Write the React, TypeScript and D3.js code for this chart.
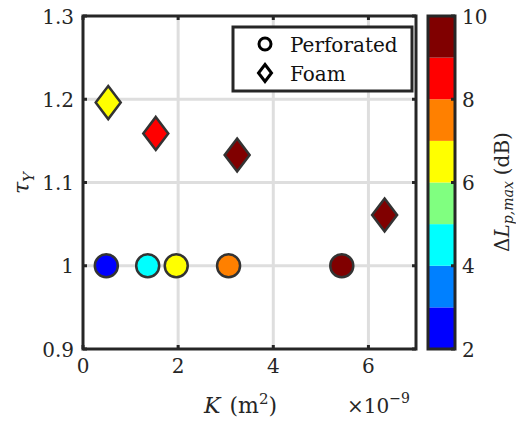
import React from "react";
import * as d3 from "d3";

const perfK = [0.49, 1.36, 1.96, 3.06, 5.44];
const perfTau = [1.0, 1.0, 1.0, 1.0, 1.0];
const perfDL = [2.5, 4.5, 6.5, 7.5, 9.5];

const foamK = [0.53, 1.53, 3.24, 6.34];
const foamTau = [1.196, 1.159, 1.133, 1.061];
const foamDL = [6.5, 8.5, 9.5, 9.5];

const xTicks = [0, 2, 4, 6];
const yTicks = [0.9, 1, 1.1, 1.2, 1.3];
const yTickLabels = ["0.9", "1", "1.1", "1.2", "1.3"];
const cTicks = [2, 4, 6, 8, 10];
const jetColors = ["#0000ff", "#0080ff", "#00ffff", "#80ff80", "#ffff00", "#ff8000", "#ff0000", "#800000"];

const FONT = "DejaVu Serif";

export default function App() {
  const W = 516, H = 422;
  const L = 83, R = 416, T = 16, B = 349;
  const x = d3.scaleLinear().domain([0, 7]).range([L, R]);
  const y = d3.scaleLinear().domain([0.9, 1.3]).range([B, T]);
  const cbL = 428, cbR = 455;
  const c = d3.scaleLinear().domain([2, 10]).range([B, T]);
  const color = d3.scaleQuantize<string>().domain([2, 10]).range(jetColors);
  const grid = "#dedede";
  const axis = "#262626";
  const edge = "#333333";
  const diamond = (cx: number, cy: number, w = 12.5, h = 16.5) =>
    `M${cx},${cy - h}L${cx + w},${cy}L${cx},${cy + h}L${cx - w},${cy}Z`;
  const bins = d3.range(2, 10, 1);
  const fs = 20;
  return (
    <svg width={W} height={H} style={{ position: "absolute", left: 0, top: 0, fontFamily: FONT }}>
      <rect width={W} height={H} fill="#fff" />
      {xTicks.filter((t) => t > 0).map((t) => (
        <line key={"gx" + t} x1={x(t)} x2={x(t)} y1={T} y2={B} stroke={grid} strokeWidth={3} />
      ))}
      {yTicks.filter((t) => t > 0.9 && t < 1.3).map((t) => (
        <line key={"gy" + t} x1={L} x2={R} y1={y(t)} y2={y(t)} stroke={grid} strokeWidth={3} />
      ))}
      {xTicks.map((t) => (
        <g key={"tx" + t}>
          <line x1={x(t)} x2={x(t)} y1={B} y2={B - 4} stroke={axis} strokeWidth={3} />
          <line x1={x(t)} x2={x(t)} y1={T} y2={T + 4} stroke={axis} strokeWidth={3} />
          <text x={x(t)} y={373} textAnchor="middle" fontSize={fs} fill={axis}>{t}</text>
        </g>
      ))}
      {yTicks.map((t, i) => (
        <g key={"ty" + t}>
          <line x1={L} x2={L + 4} y1={y(t)} y2={y(t)} stroke={axis} strokeWidth={3} />
          <line x1={R} x2={R - 4} y1={y(t)} y2={y(t)} stroke={axis} strokeWidth={3} />
          <text x={74} y={y(t) + 7.5} textAnchor="end" fontSize={fs} fill={axis}>{yTickLabels[i]}</text>
        </g>
      ))}
      {perfK.map((k, i) => (
        <circle key={"p" + i} cx={x(k)} cy={y(perfTau[i])} r={11.5} fill={color(perfDL[i])} stroke={edge} strokeWidth={2.5} />
      ))}
      {foamK.map((k, i) => (
        <path key={"f" + i} d={diamond(x(k), y(foamTau[i]))} fill={color(foamDL[i])} stroke={edge} strokeWidth={2.5} />
      ))}
      <rect x={L} y={T} width={R - L} height={B - T} fill="none" stroke={axis} strokeWidth={3} />
      <rect x={233} y={27} width={179} height={64} fill="#fff" stroke={axis} strokeWidth={3} />
      <circle cx={265} cy={44} r={6} fill="none" stroke="#000" strokeWidth={3} />
      <path d={diamond(265, 73, 6.5, 8.5)} fill="none" stroke="#000" strokeWidth={3} />
      <text x={290} y={51.5} fontSize={fs} fill="#111">Perforated</text>
      <text x={290} y={80.5} fontSize={fs} fill="#111">Foam</text>
      <text x={204} y={413} fontSize={22} fill={axis}>
        <tspan fontStyle="italic">K</tspan>
        <tspan dx={9}>(m</tspan>
        <tspan fontSize={15} dy={-9}>2</tspan>
        <tspan dy={9}>)</tspan>
      </text>
      <text x={347} y={413} fontSize={fs} fill={axis}>
        <tspan>×10</tspan>
        <tspan fontSize={14} dy={-10}>−9</tspan>
      </text>
      <text transform={`translate(29,183) rotate(-90)`} textAnchor="middle" fontSize={22} fill={axis}>
        <tspan fontStyle="italic">τ</tspan>
        <tspan fontStyle="italic" fontSize={15} dy={5}>Y</tspan>
      </text>
      {bins.map((b) => (
        <rect key={"cb" + b} x={cbL} y={c(b + 1)} width={cbR - cbL} height={c(b) - c(b + 1)} fill={color(b + 0.5)} />
      ))}
      {cTicks.map((t) => (
        <g key={"ct" + t}>
          <line x1={cbR} x2={cbR - 4} y1={c(t)} y2={c(t)} stroke={axis} strokeWidth={3} />
          <text x={462} y={c(t) + 7.5} fontSize={fs} fill={axis}>{t}</text>
        </g>
      ))}
      <rect x={cbL} y={T} width={cbR - cbL} height={B - T} fill="none" stroke={axis} strokeWidth={3} />
      <text transform={`translate(509,192) rotate(-90)`} textAnchor="middle" fontSize={20} fill={axis}>
        <tspan>Δ</tspan>
        <tspan fontStyle="italic">L</tspan>
        <tspan fontStyle="italic" fontSize={14} dy={4}>p,max</tspan>
        <tspan dy={-4} dx={6}>(dB)</tspan>
      </text>
    </svg>
  );
}
